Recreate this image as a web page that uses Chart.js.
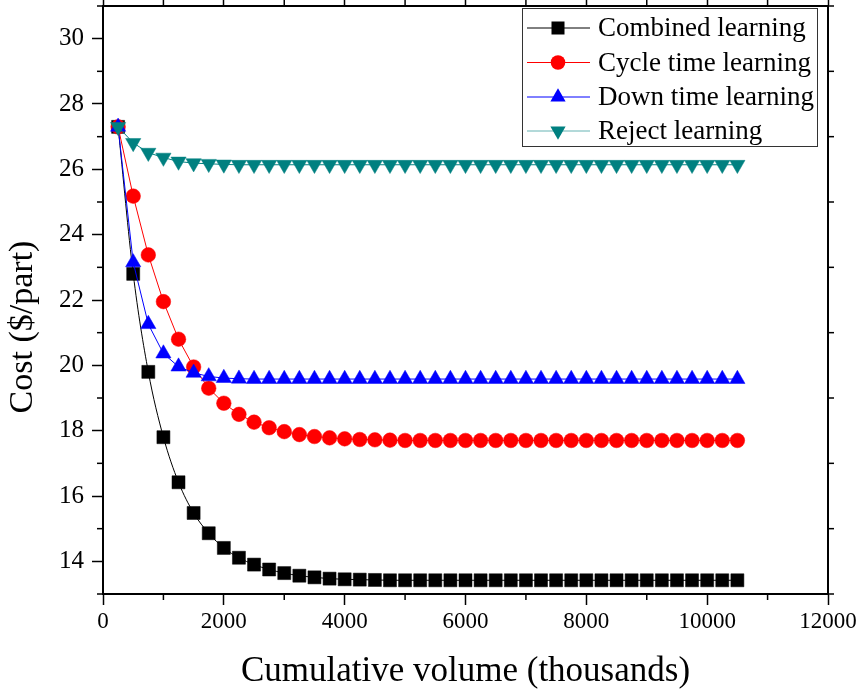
<!DOCTYPE html>
<html>
<head>
<meta charset="utf-8">
<title>Cost vs cumulative volume</title>
<script src="https://cdn.jsdelivr.net/npm/chart.js@4/dist/chart.umd.min.js"></script>
<style>
  html, body { margin: 0; padding: 0; background: #fff; }
  #wrap { width: 862px; height: 695px; }
</style>
</head>
<body>
<div id="wrap"><canvas id="cost-chart" width="862" height="695"></canvas></div>
<script>
(function () {
  var FONT = '"Liberation Serif", "Times New Roman", serif';

  // cumulative volume, thousands of parts
  var volume = [250, 500, 750, 1000, 1250, 1500, 1750, 2000, 2250, 2500, 2750, 3000,
    3250, 3500, 3750, 4000, 4250, 4500, 4750, 5000, 5250, 5500, 5750, 6000,
    6250, 6500, 6750, 7000, 7250, 7500, 7750, 8000, 8250, 8500, 8750, 9000,
    9250, 9500, 9750, 10000, 10250, 10500];

  // cost per part, $/part
  var combined = [27.3, 22.8, 19.8, 17.8, 16.42, 15.48, 14.86, 14.41, 14.11, 13.9, 13.75, 13.64,
    13.56, 13.51, 13.47, 13.45, 13.44, 13.43, 13.42, 13.42, 13.42, 13.42, 13.42, 13.42,
    13.42, 13.42, 13.42, 13.42, 13.42, 13.42, 13.42, 13.42, 13.42, 13.42, 13.42, 13.42,
    13.42, 13.42, 13.42, 13.42, 13.42, 13.42];
  var cycleTime = [27.3, 25.18, 23.38, 21.95, 20.8, 19.95, 19.3, 18.84, 18.5, 18.26, 18.09, 17.97,
    17.88, 17.82, 17.78, 17.75, 17.73, 17.72, 17.71, 17.7, 17.7, 17.7, 17.7, 17.7,
    17.7, 17.7, 17.7, 17.7, 17.7, 17.7, 17.7, 17.7, 17.7, 17.7, 17.7, 17.7,
    17.7, 17.7, 17.7, 17.7, 17.7, 17.7];
  var downTime = [27.3, 23.15, 21.26, 20.36, 19.96, 19.77, 19.66, 19.61, 19.59, 19.58, 19.58, 19.58,
    19.58, 19.58, 19.58, 19.58, 19.58, 19.58, 19.58, 19.58, 19.58, 19.58, 19.58, 19.58,
    19.58, 19.58, 19.58, 19.58, 19.58, 19.58, 19.58, 19.58, 19.58, 19.58, 19.58, 19.58,
    19.58, 19.58, 19.58, 19.58, 19.58, 19.58];
  var reject = [27.3, 26.81, 26.51, 26.36, 26.24, 26.19, 26.17, 26.15, 26.14, 26.14, 26.14, 26.14,
    26.14, 26.14, 26.14, 26.14, 26.14, 26.14, 26.14, 26.14, 26.14, 26.14, 26.14, 26.14,
    26.14, 26.14, 26.14, 26.14, 26.14, 26.14, 26.14, 26.14, 26.14, 26.14, 26.14, 26.14,
    26.14, 26.14, 26.14, 26.14, 26.14, 26.14];

  var seriesNames = ['Combined learning', 'Cycle time learning', 'Down time learning', 'Reject learning'];
  var xTickLabels = [0, 2000, 4000, 6000, 8000, 10000, 12000];
  var yTickLabels = [14, 16, 18, 20, 22, 24, 26, 28, 30];

  var styles = [
    { color: '#000000', point: 'rect', radius: 9.2, rotation: 0, legendLine: '#000000' },
    { color: '#ff0000', point: 'circle', radius: 7.3, rotation: 0, legendLine: '#ff0000' },
    { color: '#0000ff', point: 'triangle', radius: 8.8, rotation: 0, legendLine: '#0000ff' },
    { color: '#008080', point: 'triangle', radius: 8.8, rotation: 180, legendLine: '#66b3b3' }
  ];

  function toPoints(values) {
    return volume.map(function (v, i) { return { x: v, y: values[i] }; });
  }

  function makeDataset(i, values) {
    var s = styles[i];
    return {
      label: seriesNames[i],
      data: toPoints(values),
      borderColor: s.color,
      backgroundColor: s.color,
      borderWidth: 1,
      pointStyle: s.point,
      pointRadius: s.radius,
      pointRotation: s.rotation,
      pointBackgroundColor: s.color,
      pointBorderColor: s.color,
      pointBorderWidth: 0.5,
      cubicInterpolationMode: i === 0 ? 'monotone' : 'default',
      tension: 0,
      // first series sits at the bottom, reject series on top
      order: 4 - i
    };
  }

  function line(ctx, x1, y1, x2, y2) {
    ctx.beginPath();
    ctx.moveTo(x1, y1);
    ctx.lineTo(x2, y2);
    ctx.stroke();
  }

  function drawMarker(ctx, s, x, y) {
    var r = s.radius;
    ctx.fillStyle = s.color;
    ctx.beginPath();
    if (s.point === 'rect') {
      var h = r * Math.SQRT1_2;
      ctx.rect(x - h, y - h, 2 * h, 2 * h);
    } else if (s.point === 'circle') {
      ctx.arc(x, y, r, 0, Math.PI * 2);
    } else {
      var dir = s.rotation ? -1 : 1;
      ctx.moveTo(x, y - dir * r);
      ctx.lineTo(x - r * 0.866, y + dir * r * 0.5);
      ctx.lineTo(x + r * 0.866, y + dir * r * 0.5);
      ctx.closePath();
    }
    ctx.fill();
  }

  function drawMinorTicks(chart) {
    var ctx = chart.ctx;
    var a = chart.chartArea;
    ctx.save();
    ctx.strokeStyle = '#000';
    ctx.lineWidth = 1.5;
    chart.scales.x.ticks.forEach(function (t) {
      if (xTickLabels.indexOf(t.value) !== -1) return;
      var px = chart.scales.x.getPixelForValue(t.value);
      line(ctx, px, a.bottom, px, a.bottom + 6);
      line(ctx, px, a.top, px, a.top - 6);
    });
    chart.scales.y.ticks.forEach(function (t) {
      if (yTickLabels.indexOf(t.value) !== -1) return;
      var py = chart.scales.y.getPixelForValue(t.value);
      line(ctx, a.left, py, a.left - 6, py);
      line(ctx, a.right, py, a.right + 6, py);
    });
    ctx.restore();
  }

  function drawTitles(chart) {
    var ctx = chart.ctx;
    var a = chart.chartArea;
    ctx.save();
    ctx.fillStyle = '#000';
    ctx.textAlign = 'center';
    ctx.textBaseline = 'middle';
    ctx.font = '35px ' + FONT;
    ctx.fillText('Cumulative volume (thousands)', (a.left + a.right) / 2, 672);
    ctx.translate(23, 327);
    ctx.rotate(-Math.PI / 2);
    ctx.font = '34px ' + FONT;
    ctx.fillText('Cost ($/part)', 0, 0);
    ctx.restore();
  }

  function drawLegend(chart) {
    var ctx = chart.ctx;
    var box = { x: 522.5, y: 8.5, w: 295, h: 138 };
    var rows = [28, 62.5, 97, 131];
    ctx.save();
    ctx.fillStyle = '#fff';
    ctx.fillRect(box.x, box.y, box.w, box.h);
    ctx.strokeStyle = '#333';
    ctx.lineWidth = 1;
    ctx.strokeRect(box.x, box.y, box.w, box.h);
    ctx.font = '27px ' + FONT;
    ctx.textBaseline = 'middle';
    ctx.textAlign = 'left';
    rows.forEach(function (y, i) {
      var s = styles[i];
      ctx.strokeStyle = s.legendLine;
      ctx.lineWidth = 1;
      line(ctx, 527, y, 590, y);
      drawMarker(ctx, s, 558, y);
      ctx.fillStyle = '#000';
      ctx.fillText(seriesNames[i], 598, y + 1);
    });
    ctx.restore();
  }

  var decorations = {
    id: 'decorations',
    afterDraw: function (chart) {
      drawMinorTicks(chart);
      drawTitles(chart);
      drawLegend(chart);
    }
  };

  function majorTickColor(list) {
    return function (c) {
      return c.tick && list.indexOf(c.tick.value) !== -1 ? '#000' : 'rgba(0,0,0,0)';
    };
  }

  // fixed axis band sizes, no extra padding for overhanging labels
  function fixSize(w, h) {
    return function (scale) {
      if (w !== null) scale.width = w;
      if (h !== null) scale.height = h;
      scale.paddingTop = 0;
      scale.paddingBottom = 0;
      scale.paddingLeft = 0;
      scale.paddingRight = 0;
    };
  }

  var ctx = document.getElementById('cost-chart').getContext('2d');
  new Chart(ctx, {
    type: 'line',
    data: {
      datasets: [
        makeDataset(0, combined),
        makeDataset(1, cycleTime),
        makeDataset(2, downTime),
        makeDataset(3, reject)
      ]
    },
    options: {
      responsive: false,
      animation: false,
      devicePixelRatio: 1,
      layout: { padding: 0, autoPadding: false },
      plugins: { legend: { display: false }, tooltip: { enabled: false } },
      scales: {
        x: {
          type: 'linear',
          position: 'bottom',
          min: 0,
          max: 12000,
          ticks: {
            stepSize: 1000,
            autoSkip: false,
            maxRotation: 0,
            color: '#000',
            font: { family: FONT, size: 23 },
            padding: 3,
            callback: function (v) { return xTickLabels.indexOf(v) !== -1 ? String(v) : ''; }
          },
          grid: { drawOnChartArea: false, drawTicks: true, tickLength: 11, tickWidth: 1.5, tickColor: majorTickColor(xTickLabels) },
          border: { color: '#000', width: 2 },
          afterFit: fixSize(null, 101)
        },
        xTop: {
          type: 'linear',
          position: 'top',
          min: 0,
          max: 12000,
          ticks: { stepSize: 2000, display: false },
          grid: { drawOnChartArea: false, drawTicks: true, tickLength: 11, tickWidth: 1.5, tickColor: '#000' },
          border: { color: '#000', width: 2 },
          afterFit: fixSize(null, 6)
        },
        y: {
          type: 'linear',
          position: 'left',
          min: 13,
          max: 31,
          ticks: {
            stepSize: 1,
            autoSkip: false,
            color: '#000',
            font: { family: FONT, size: 25 },
            padding: 8,
            callback: function (v) { return yTickLabels.indexOf(v) !== -1 ? String(v) : ''; }
          },
          grid: { drawOnChartArea: false, drawTicks: true, tickLength: 11, tickWidth: 1.5, tickColor: majorTickColor(yTickLabels) },
          border: { color: '#000', width: 2 },
          afterFit: fixSize(103, null)
        },
        yRight: {
          type: 'linear',
          position: 'right',
          min: 13,
          max: 31,
          ticks: { stepSize: 2, display: false },
          grid: { drawOnChartArea: false, drawTicks: true, tickLength: 11, tickWidth: 1.5, tickColor: majorTickColor(yTickLabels) },
          border: { color: '#000', width: 2 },
          afterFit: fixSize(34, null)
        }
      }
    },
    plugins: [decorations]
  });
})();
</script>
</body>
</html>
